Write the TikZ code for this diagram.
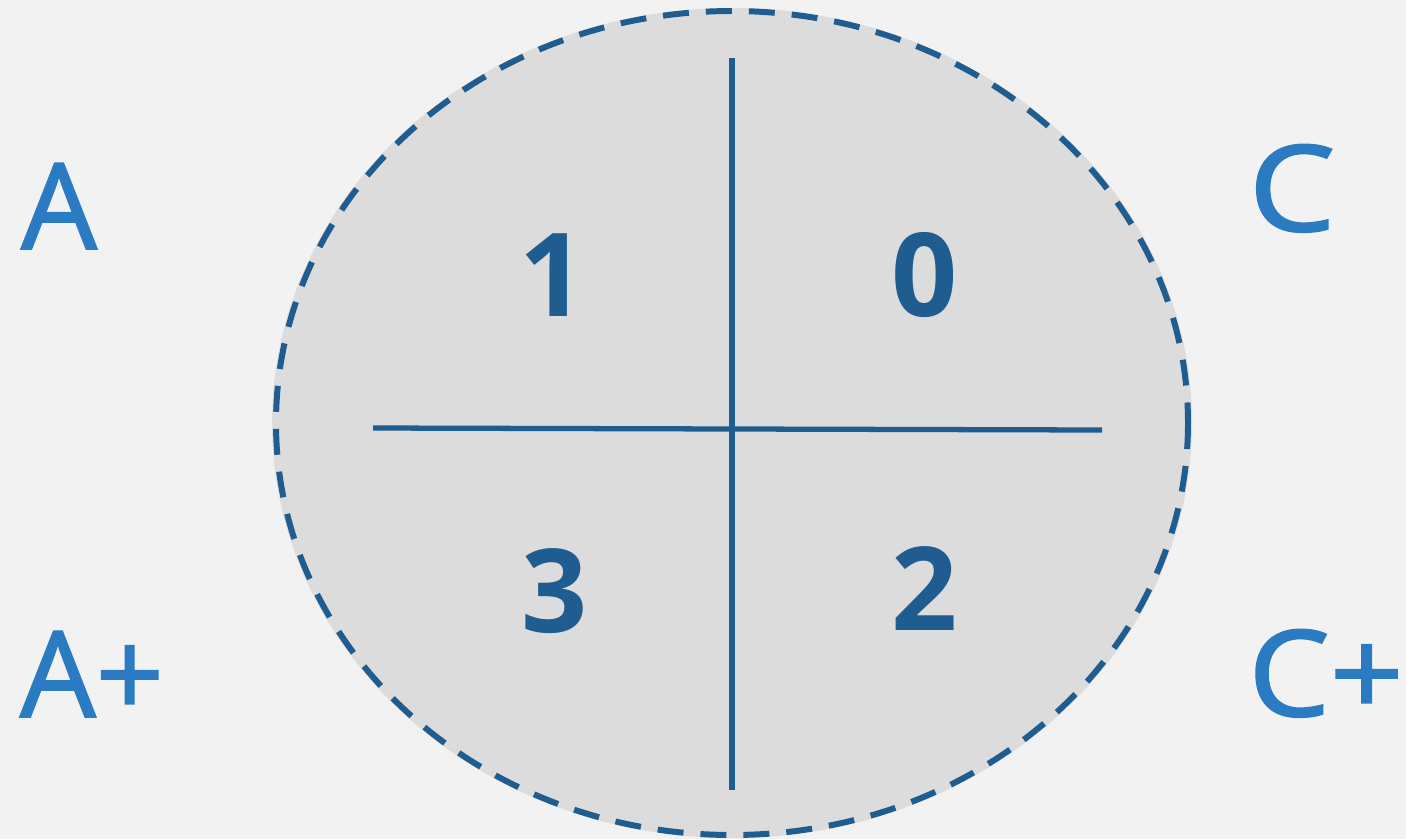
\documentclass[tikz,border=0pt]{standalone}
\usepackage{fontspec}
\setmainfont{Open Sans}
\newfontfamily\polefont[FakeBold=1.6]{Open Sans}
\definecolor{bggray}{HTML}{F2F2F2}
\definecolor{discgray}{HTML}{DCDCDC}
\definecolor{darkblue}{HTML}{1F5C8F}
\definecolor{lightblue}{HTML}{2A7BC1}
\begin{document}
\begin{tikzpicture}[
    x=0.02cm,
    y=-0.02cm,
    divider/.style={
        draw=darkblue,
        line width=3pt
    },
    quadrant/.style={
        anchor=base,
        inner sep=0pt,
        text=darkblue,
        font=\fontsize{66}{80}\selectfont\bfseries
    },
    pole/.style={
        anchor=base,
        inner sep=0pt,
        text=lightblue,
        font=\fontsize{68}{80}\polefont
    }]

% Achtergrond
\fill[bggray] (0,0) rectangle (1406,839);
\useasboundingbox (0,0) rectangle (1406,839);

% Schijf
\fill[discgray] (732,423) ellipse [x radius=460, y radius=415];
\draw[
    darkblue,
    line width=3.4pt,
    dash pattern=on 0.52cm off 0.34cm
] (732,423) ellipse [x radius=456, y radius=412];

% Eindpunten van de assen
\coordinate (top) at (732,58);
\coordinate (bottom) at (732,790);
\coordinate (left) at (373,428);
\coordinate (right) at (1102,430);

% Assen
\draw[divider] (top) -- (bottom);
\draw[divider] (left) -- (right);

% Kwadranten
\node[quadrant] (q1) at (553,316) {1};
\node[quadrant] (q0) at (925,316) {0};
\node[quadrant] (q3) at (555,632) {3};
\node[quadrant] (q2) at (925,630) {2};

% Polen
\node[pole] (poleA) at (59,249) {A};
\node[pole, xscale=1.15] (poleC) at (1292,231) {C};
\node[pole] (poleAplus) at (92,717) {A+};
\node[pole, xscale=1.08] (poleCplus) at (1326,716) {C+};

\end{tikzpicture}
\end{document}
